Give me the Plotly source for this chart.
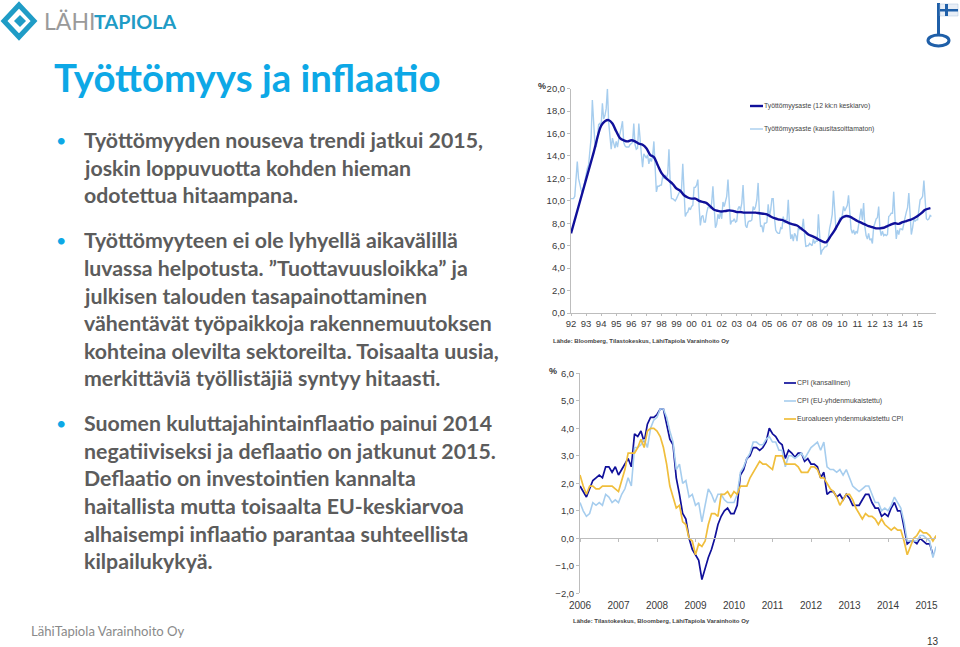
import plotly.graph_objects as go

W, H = 960, 647

# ---------- data: unemployment ----------
unemp_ticks = ["92","93","94","95","96","97","98","99","00","01","02","03","04","05","06","07","08","09","10","11","12","13","14","15"]
unemp_raw = [
 10.2,10.2,10.2,10.4,11.6,13.5,12.0,11.4,11.0,10.6,11.2,11.6,12.4,
 12.9,13.2,14.6,15.6,19.0,16.6,15.2,14.8,15.5,16.8,16.9,16.7,
 18.7,17.3,17.6,18.2,20.0,17.0,16.0,14.6,15.6,15.2,14.7,15.3,
 14.8,15.5,16.2,16.5,17.1,15.2,14.9,14.8,14.8,14.8,15.0,15.1,
 15.2,16.9,15.0,14.6,14.7,16.9,15.0,14.2,13.0,14.2,14.0,13.8,
 14.1,13.3,13.8,13.5,14.0,15.3,13.0,10.8,11.3,11.3,11.4,11.4,
 12.2,12.0,12.3,12.0,12.4,14.6,11.6,10.2,10.2,10.1,10.0,10.2,
 10.5,10.7,10.9,11.0,13.3,10.8,8.6,8.9,9.0,9.4,9.2,9.5,
 9.6,11.2,11.2,11.4,11.9,9.5,7.8,8.6,8.7,8.1,8.1,8.9,
 9.4,9.5,9.3,9.8,11.3,9.4,7.6,7.9,8.8,8.4,9.0,8.4,
 9.9,9.5,9.9,10.4,11.9,9.5,7.9,8.2,8.2,8.4,8.1,8.2,
 9.3,9.5,9.2,9.8,11.4,9.2,7.8,7.6,8.1,8.2,8.2,8.3,
 9.5,9.2,9.5,10.1,11.6,9.0,7.7,7.8,7.2,8.0,8.0,8.1,
 9.7,8.6,9.2,10.2,10.2,8.5,7.4,7.2,7.1,7.1,7.6,7.5,
 8.6,8.0,8.3,8.3,10.1,7.9,6.6,7.0,6.4,7.1,6.9,6.4,
 7.6,7.4,7.6,7.5,8.4,7.0,5.9,6.0,6.0,6.2,6.1,6.0,
 6.6,6.2,6.4,6.4,8.8,6.5,5.2,5.6,5.7,5.9,5.9,6.0,
 7.0,7.6,8.1,8.8,10.9,9.2,7.4,7.8,7.9,8.5,8.4,8.7,
 9.5,9.1,9.3,9.6,10.5,8.6,7.5,7.1,7.4,7.0,7.3,7.1,
 7.9,8.4,9.3,8.3,9.8,7.7,6.9,6.6,7.1,6.5,6.6,6.2,
 7.7,8.0,8.4,8.5,9.5,7.5,6.9,7.3,6.9,7.0,6.9,7.0,
 8.6,8.7,8.9,8.9,10.8,8.4,6.6,7.4,7.0,7.5,7.5,7.4,
 8.1,8.5,9.0,9.4,10.7,8.7,7.0,7.6,8.4,8.2,8.3,8.3,
 9.1,10.1,10.2,10.4,11.8,9.6,8.4,8.3,8.4,8.7,8.6]
unemp_avg_x = [1992.0,1993.0,1993.5,1994.0,1994.25,1994.5,1994.75,1995.0,1995.25,1995.5,1995.75,
 1996.0,1996.25,1996.5,1996.75,1997.0,1997.25,1997.5,1997.75,1998.0,1998.25,1998.5,1998.75,
 1999.0,1999.25,1999.5,1999.75,2000.0,2000.25,2000.5,2000.75,2001.0,2001.25,2001.5,2001.75,
 2002.0,2002.25,2002.5,2002.75,2003.0,2003.25,2003.5,2003.75,2004.0,2004.25,2004.5,2004.75,
 2005.0,2005.25,2005.5,2005.75,2006.0,2006.25,2006.5,2006.75,2007.0,2007.25,2007.5,2007.75,
 2008.0,2008.25,2008.5,2008.75,2008.92,2009.25,2009.5,2009.75,2010.0,2010.25,2010.5,2010.75,
 2011.0,2011.25,2011.5,2011.75,2012.0,2012.25,2012.5,2012.75,2013.0,2013.25,2013.5,2013.75,
 2014.0,2014.25,2014.5,2014.75,2015.0,2015.25,2015.5,2015.85]
unemp_avg = [7.1,11.9,14.3,16.7,17.1,17.2,16.9,16.2,15.6,15.4,15.3,
 15.4,15.3,15.1,15.0,14.7,14.1,13.9,13.2,12.5,12.1,11.8,11.5,
 11.1,10.9,10.5,10.3,10.2,10.2,10.0,9.9,9.8,9.5,9.2,9.1,
 9.05,9.1,9.15,9.1,9.0,9.0,8.95,8.95,8.95,8.95,8.9,8.85,
 8.8,8.6,8.45,8.35,8.3,8.15,8.0,7.9,7.8,7.55,7.3,7.0,
 6.85,6.7,6.5,6.35,6.3,6.9,7.4,8.0,8.5,8.65,8.6,8.4,
 8.2,8.05,7.9,7.75,7.65,7.55,7.55,7.6,7.75,7.9,8.0,7.95,
 8.1,8.2,8.3,8.45,8.65,8.9,9.2,9.35]

# ---------- data: CPI ----------
cpi_years = list(range(2006, 2016))
cpi_national = [
 1.9,1.7,1.5,1.8,2.1,2.2,2.3,2.2,2.6,2.6,2.4,2.6,
 2.3,2.5,2.7,2.9,2.6,3.8,3.7,3.9,3.5,4.15,4.4,4.4,
 4.5,4.7,4.7,4.2,3.6,3.4,2.2,1.6,0.9,0.7,0.0,-0.4,
 -0.6,-0.8,-1.5,-1.1,-0.7,-0.4,0.0,0.5,0.8,1.0,1.1,0.9,
 0.9,1.2,2.3,2.5,2.9,3.0,3.3,3.3,3.2,3.3,3.5,4.0,
 3.8,3.7,3.5,3.4,2.9,3.2,3.1,2.95,3.1,3.1,2.8,2.9,
 2.7,2.7,2.6,2.2,2.4,1.6,1.7,1.7,1.5,1.6,1.4,1.6,
 1.45,1.2,1.2,1.2,1.4,1.6,1.6,1.3,1.1,1.1,0.8,0.9,
 0.8,1.1,1.3,1.0,1.0,0.4,-0.2,-0.1,-0.1,-0.2,0.0,-0.1,
 -0.2,-0.2,-0.6]
cpi_eu = [
 1.3,1.0,0.8,0.9,1.3,1.2,1.3,1.2,1.6,1.5,1.3,1.4,
 1.3,1.6,1.8,2.2,1.9,3.3,3.3,3.4,3.6,3.3,4.0,4.3,
 4.4,4.7,4.7,4.4,3.9,3.5,2.5,2.7,2.0,2.1,1.5,1.6,
 1.2,1.3,0.6,1.2,1.8,1.6,1.3,1.6,1.6,1.4,1.3,1.3,
 1.3,1.6,2.4,2.6,2.9,3.1,3.5,3.5,3.4,3.4,3.6,3.7,
 3.5,3.5,3.2,3.2,2.6,3.0,3.0,2.9,3.0,3.1,2.9,3.1,
 3.3,3.4,3.5,3.2,3.5,2.6,2.5,2.5,2.4,2.5,2.3,2.5,
 2.2,1.9,1.8,1.7,1.8,1.9,1.9,1.6,1.3,1.3,1.0,1.1,
 1.0,1.2,1.5,1.3,1.1,0.6,-0.1,-0.1,-0.1,-0.1,0.1,0.1,
 0.0,-0.1,-0.7,-0.3]
cpi_euro = [
 2.3,1.9,1.6,1.9,1.9,1.8,1.8,1.9,1.9,1.9,1.9,1.8,
 1.7,2.1,2.5,3.1,3.1,3.1,3.3,3.6,3.3,3.9,4.0,4.0,
 3.9,3.7,3.3,2.7,1.9,1.5,1.1,1.2,0.6,0.5,0.0,-0.1,
 -0.6,-0.2,-0.3,-0.1,0.5,0.9,0.9,0.8,1.6,1.6,1.7,1.5,
 1.7,1.6,1.9,1.9,1.9,2.2,2.4,2.6,2.8,2.7,2.7,2.6,
 2.5,3.0,3.0,3.0,2.7,2.7,2.7,2.7,2.6,2.4,2.4,2.4,
 2.6,2.6,2.5,2.2,2.2,2.0,1.8,1.7,1.5,1.2,1.4,1.6,
 1.6,1.4,1.1,0.9,0.7,0.9,0.8,0.8,0.7,0.5,0.7,0.5,
 0.4,0.3,0.4,0.3,0.3,-0.1,-0.6,-0.3,0.0,0.1,0.3,0.2,
 0.2,0.1,-0.1,0.1]

# ---------- texts ----------
title_text = "Työttömyys ja inflaatio"
body_lines = [
 (140,True,"Työttömyyden nouseva trendi jatkui 2015,"),
 (168,False,"joskin loppuvuotta kohden hieman"),
 (195,False,"odotettua hitaampana."),
 (240,True,"Työttömyyteen ei ole lyhyellä aikavälillä"),
 (268,False,"luvassa helpotusta. ”Tuottavuusloikka” ja"),
 (296,False,"julkisen talouden tasapainottaminen"),
 (323,False,"vähentävät työpaikkoja rakennemuutoksen"),
 (351,False,"kohteina olevilta sektoreilta. Toisaalta uusia,"),
 (378,False,"merkittäviä työllistäjiä syntyy hitaasti."),
 (423,True,"Suomen kuluttajahintainflaatio painui 2014"),
 (451,False,"negatiiviseksi ja deflaatio on jatkunut 2015."),
 (478,False,"Deflaatio on investointien kannalta"),
 (506,False,"haitallista mutta toisaalta EU-keskiarvoa"),
 (534,False,"alhaisempi inflaatio parantaa suhteellista"),
 (561,False,"kilpailukykyä."),
]

TEAL = "#1F9CC6"
BRIGHT = "#0DA8E6"
DARK = "#10109A"
LIGHT = "#A6CDEE"
YEL = "#F0BE3C"
AXC = "#BDBDBD"
TICK = "#3A3A3A"

def px(x): return x / W
def py(y): return 1 - y / H

fig = go.Figure()
unemp_x = [1992 + i / 12 for i in range(len(unemp_raw))]
fig.add_trace(go.Scatter(x=unemp_x, y=unemp_raw, mode="lines", line=dict(color=LIGHT, width=1.4), xaxis="x", yaxis="y"))
fig.add_trace(go.Scatter(x=unemp_avg_x, y=unemp_avg, mode="lines", line=dict(color=DARK, width=2.4, shape="spline"), xaxis="x", yaxis="y"))

def cx(s): return [2006 + i / 12 for i in range(len(s))]
fig.add_trace(go.Scatter(x=cx(cpi_national), y=cpi_national, mode="lines", line=dict(color=DARK, width=1.7), xaxis="x2", yaxis="y2"))
fig.add_trace(go.Scatter(x=cx(cpi_eu), y=cpi_eu, mode="lines", line=dict(color=LIGHT, width=1.6), xaxis="x2", yaxis="y2"))
fig.add_trace(go.Scatter(x=cx(cpi_euro), y=cpi_euro, mode="lines", line=dict(color=YEL, width=1.7), xaxis="x2", yaxis="y2"))
# zero baseline carrying the tick marks of the second chart
fig.add_trace(go.Scatter(x=cpi_years, y=[0] * len(cpi_years), mode="lines", line=dict(width=0), opacity=0, xaxis="x3", yaxis="y2", hoverinfo="skip"))

tickf = dict(family="Liberation Sans", size=9.5, color=TICK)
fig.update_layout(
    width=W, height=H, margin=dict(l=0, r=0, t=0, b=0, autoexpand=False), showlegend=False,
    paper_bgcolor="white", plot_bgcolor="white", separators=", ",
    xaxis=dict(domain=[px(571), px(936)], range=[1992, 1992 + 365 / 15.07], tickvals=[1992 + i for i in range(len(unemp_ticks))],
               ticktext=unemp_ticks, showgrid=False, zeroline=False, showline=True, linecolor=AXC, ticks="outside",
               ticklen=2, tickcolor=AXC, tickfont=tickf, anchor="y", tickangle=0),
    yaxis=dict(domain=[py(313), py(88.7)], range=[0, 20], dtick=2, tickformat=".1f", showgrid=False, zeroline=False,
               showline=True, linecolor=AXC, ticks="outside", ticklen=3, tickcolor=AXC, tickfont=tickf, anchor="x"),
    xaxis2=dict(domain=[px(580), px(936)], range=[2006, 2006 + 356 / 38.5], tickvals=cpi_years, showgrid=False, zeroline=False,
                showline=False, ticks="outside", ticklen=3, tickcolor="rgba(255,255,255,0)",
                tickfont=dict(family="Liberation Sans", size=10, color=TICK), anchor="y2", tickformat="d"),
    xaxis3=dict(domain=[px(580), px(936)], range=[2006, 2006 + 356 / 38.5], tickvals=cpi_years, overlaying="x2", anchor="free",
                position=py(593.3) + (py(373.3) - py(593.3)) * 2 / 8, showticklabels=False, showgrid=False, zeroline=False,
                showline=True, linecolor=AXC, ticks="outside", ticklen=3, tickcolor=AXC),
    yaxis2=dict(domain=[py(593.3), py(373.3)], range=[-2, 6], dtick=1, tickformat=".1f", showgrid=False, zeroline=False,
                showline=True, linecolor=AXC, ticks="outside", ticklen=3, tickcolor=AXC, tickfont=tickf, anchor="x2"),
)

def note(x, y, text, size, color="#333333", family="Lato", anchor="left"):
    fig.add_annotation(xref="paper", yref="paper", x=px(x), y=py(y), text=text, showarrow=False, xanchor=anchor,
                       yanchor="middle", align="left", borderpad=0, font=dict(family=family, size=size, color=color))

note(53, 77, "<b>" + title_text + "</b>", 38.4, BRIGHT)
for y, bullet, line in body_lines:
    note(83, y, "<b>" + line + "</b>", 21.3, "#5C5C5C")
    if bullet:
        note(55, y, "•", 18, BRIGHT)

note(30, 631, "LähiTapiola Varainhoito Oy", 13.1, "#8A8A8A")
note(926, 641, "13", 10, "#333333", "Liberation Sans")
A = "Liberation Sans"
note(537, 86, "<b>%</b>", 9, "#333333", A)
note(548, 371, "<b>%</b>", 9, "#333333", A)
note(552, 341, "<b>Lähde: Bloomberg, Tilastokeskus, LähiTapiola Varainhoito Oy</b>", 6, "#444444", A)
note(572, 621, "<b>Lähde: Tilastokeskus, Bloomberg, LähiTapiola Varainhoito Oy</b>", 6, "#444444", A)
note(763, 106, "Työttömyysaste (12 kk:n keskiarvo)", 6.8, "#444444", A)
note(763, 129, "Työttömyysaste (kausitasoittamaton)", 6.8, "#444444", A)
note(796, 383, "CPI (kansallinen)", 7, "#444444", A)
note(796, 401, "CPI (EU-yhdenmukaistettu)", 7, "#444444", A)
note(796, 419, "Euroalueen yhdenmukaistettu CPI", 7, "#444444", A)

def swatch(x0, x1, y, color, width):
    fig.add_shape(type="line", xref="paper", yref="paper", x0=px(x0), x1=px(x1), y0=py(y), y1=py(y), line=dict(color=color, width=width))
swatch(750, 763, 106, DARK, 2.4)
swatch(750, 763, 129, LIGHT, 1.4)
swatch(784, 796, 383, DARK, 1.7)
swatch(784, 796, 401, LIGHT, 1.6)
swatch(784, 796, 419, YEL, 1.7)

# logo
note(43, 21, "LÄHI", 23, "#9A9A9A")
note(93, 21, "<b>TAPIOLA</b>", 19.8, TEAL)
def poly(points, fill=None, lc=None, lw=0):
    path = "M " + " L ".join(f"{px(a):.5f} {py(b):.5f}" for a, b in points) + " Z"
    fig.add_shape(type="path", xref="paper", yref="paper", path=path, fillcolor=fill,
                  line=dict(color=lc or "rgba(0,0,0,0)", width=lw))
poly([(19, 5), (34, 21), (19, 37), (4, 21)], None, TEAL, 5)
poly([(20, 15), (26, 21), (20, 27), (14, 21)], TEAL)

# key emblem
KB = "#1F5FA8"
poly([(937, 3), (940, 3), (940, 34), (937, 34)], KB)
poly([(940, 4), (958, 4), (958, 16), (940, 16)], "#E8EEF6", "#AFC4DE", 0.5)
poly([(940, 9), (958, 9), (958, 11.5), (940, 11.5)], KB)
poly([(945, 4), (948, 4), (948, 16), (945, 16)], KB)
fig.add_shape(type="circle", xref="paper", yref="paper", x0=px(928), x1=px(949), y0=py(46), y1=py(35),
              line=dict(color=KB, width=3))

fig.write_html("out.html", config=dict(displayModeBar=False), post_script="document.body.style.margin='0';")
